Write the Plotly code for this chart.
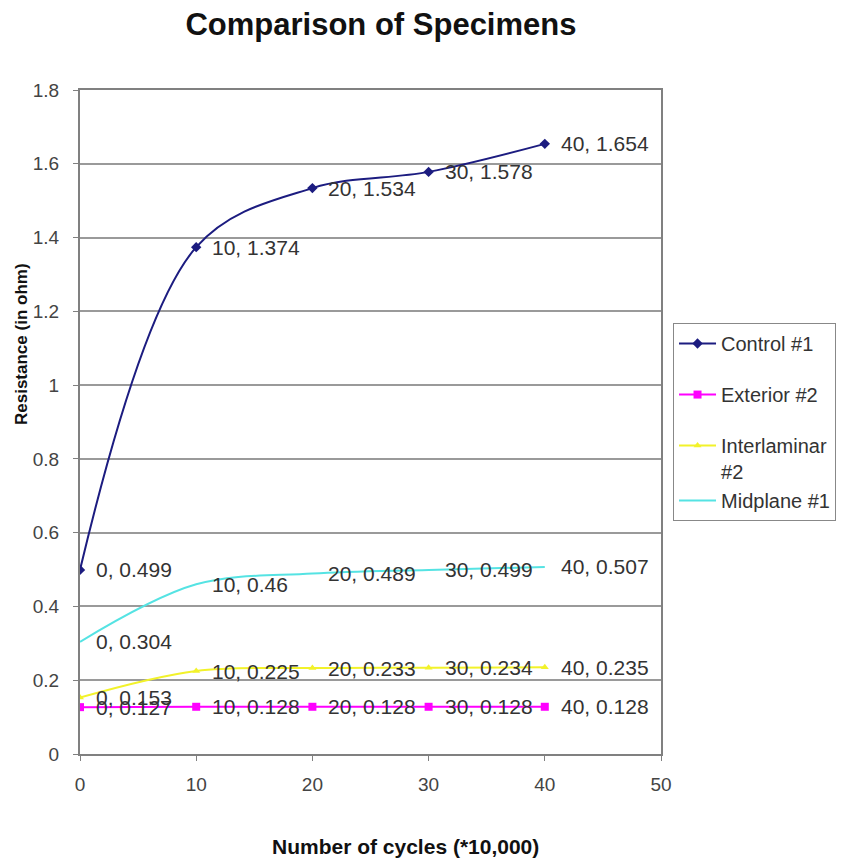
import plotly.graph_objects as go

cycles = [0, 10, 20, 30, 40]
control_1 = [0.499, 1.374, 1.534, 1.578, 1.654]
exterior_2 = [0.127, 0.128, 0.128, 0.128, 0.128]
interlaminar_2 = [0.153, 0.225, 0.233, 0.234, 0.235]
midplane_1 = [0.304, 0.46, 0.489, 0.499, 0.507]

series = [
    ("Control #1", control_1, "#1c1c80", "diamond", 8, "g1", True),
    ("Exterior #2", exterior_2, "#ff00ff", "square", 8, "g2", True),
    ("Interlaminar<br>#2", interlaminar_2, "#f2f22a", "triangle-up", 7, "g3", True),
    ("Midplane #1", midplane_1, "#55e3e3", "circle", 1, "g3", False),
]

FONT = "Liberation Sans, Arial, sans-serif"

fig = go.Figure()
annotations = []
for name, vals, color, sym, msize, grp, show_m in series:
    fig.add_trace(go.Scatter(
        x=cycles, y=vals, name=name, legendgroup=grp,
        mode="lines+markers" if show_m else "lines",
        line=dict(color=color, width=2, shape="spline", smoothing=1.0),
        marker=dict(symbol=sym, size=msize, color=color),
    ))
    for xv, yv in zip(cycles, vals):
        annotations.append(dict(
            x=xv, y=yv, xref="x", yref="y", text=f"{xv}, {yv:g}",
            showarrow=False, xanchor="left", yanchor="middle", xshift=14,
            font=dict(family=FONT, size=21, color="#333333"),
        ))

annotations.append(dict(
    x=-0.0998, y=0.6175, xref="paper", yref="paper", text="Resistance (in ohm)",
    textangle=-90, showarrow=False, xanchor="center", yanchor="middle",
    font=dict(family=FONT, size=17, color="#111111", weight="bold"),
))
annotations.append(dict(
    x=0.561, y=-0.1386, xref="paper", yref="paper", text="Number of cycles (*10,000)",
    showarrow=False, xanchor="center", yanchor="middle",
    font=dict(family=FONT, size=21, color="#111111", weight="bold"),
))

fig.update_layout(
    width=852, height=859,
    margin=dict(l=80, r=191, t=90, b=105),
    paper_bgcolor="white", plot_bgcolor="white",
    title=dict(text="Comparison of Specimens", x=0.518, xref="paper", xanchor="center",
               y=1 - 24 / 859, yref="container", yanchor="middle",
               font=dict(family=FONT, size=31, color="#111111", weight="bold")),
    showlegend=True,
    legend=dict(x=1.0207, y=0.649, xanchor="left", yanchor="top",
                xref="paper", yref="paper",
                bordercolor="#888888", borderwidth=1, bgcolor="white",
                font=dict(family=FONT, size=20, color="#333333"),
                traceorder="grouped", tracegroupgap=22, valign="top",
                itemwidth=37),
    annotations=annotations,
    font=dict(family=FONT),
)
fig.update_xaxes(range=[0, 50], dtick=10, tick0=0, showgrid=False, zeroline=False,
                 showline=True, linecolor="#808080", linewidth=2, mirror=True,
                 ticks="outside", ticklen=5, tickcolor="#808080",
                 ticklabelstandoff=7,
                 tickfont=dict(family=FONT, size=19, color="#444444"))
fig.update_yaxes(range=[0, 1.8], dtick=0.2, tick0=0, showgrid=True, gridcolor="#9a9a9a",
                 gridwidth=1.5, zeroline=False,
                 showline=True, linecolor="#808080", linewidth=2, mirror=True,
                 ticks="outside", ticklen=5, tickcolor="#808080",
                 ticklabelstandoff=10,
                 tickfont=dict(family=FONT, size=19, color="#444444"))

fig.write_html("out.html")
